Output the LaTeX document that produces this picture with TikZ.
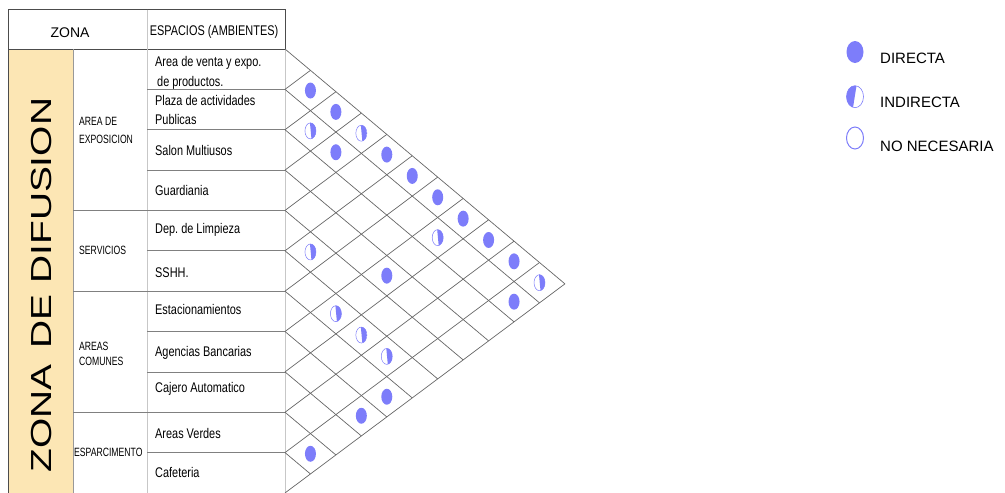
\documentclass[tikz,border=0pt]{standalone}
\usepackage{fontspec}
\setmainfont{Liberation Sans}
\newfontfamily\narrowfont[FakeStretch=0.78]{Liberation Sans}
\newfontfamily\tightfont[FakeStretch=0.72]{Liberation Sans}
\newfontfamily\widefont[FakeStretch=1.34]{Liberation Sans}
\usepackage{xcolor}
\usepackage{tikz}
\usetikzlibrary{shapes.geometric, positioning}
\frenchspacing

\definecolor{relblue}{RGB}{125,125,250}
\definecolor{zonatan}{RGB}{252,230,180}

% row height, half cell width, down / up steps of the grid
\def\rowh{40.36}
\def\cw{25.45}
\def\da{21.35}
\def\db{19.01}

\begin{document}
\begin{tikzpicture}[
    x=1pt, y=-1pt,
    gridline/.style={draw=black!60, line width=0.7pt},
    rowline/.style={draw=black!50, line width=0.7pt},
    colline/.style={draw=black!22, line width=0.9pt},
    frame/.style={draw=black!70, line width=0.8pt},
    headlbl/.style={inner sep=0pt, anchor=base, font=\narrowfont\fontsize{14}{17}\selectfont},
    spacelbl/.style={anchor=base west, inner sep=0pt, font=\narrowfont\fontsize{14}{17}\selectfont},
    spacelbl2/.style={anchor=west, inner sep=0pt, align=left},
    zonelbl/.style={anchor=base west, inner sep=0pt, font=\tightfont\fontsize{12}{15}\selectfont},
    zonelbl2/.style={anchor=west, inner sep=0pt, align=left},
    legtext/.style={anchor=base west, inner sep=0pt, font=\fontsize{15}{18}\selectfont},
    relmark/.style={ellipse, inner sep=0pt, minimum width=11pt, minimum height=16pt},
    directa/.style={relmark, fill=relblue},
    indirecta/.style={relmark, draw=relblue, line width=0.5pt, fill=white,
        path picture={\fill[relblue] ([xshift=-0.5pt]path picture bounding box.north)
            -- ([xshift=1pt]path picture bounding box.south)
            -- (path picture bounding box.south east)
            -- (path picture bounding box.north east) -- cycle;}},
    legindirecta/.style={relmark, draw=relblue, line width=0.6pt, fill=white,
        minimum width=17pt, minimum height=22pt,
        path picture={\fill[relblue] ([xshift=1.5pt]path picture bounding box.north)
            -- ([xshift=-2pt]path picture bounding box.south)
            -- (path picture bounding box.south west)
            -- (path picture bounding box.north west) -- cycle;}},
    nonecesaria/.style={relmark, draw=relblue, line width=1pt, fill=white,
        minimum width=17pt, minimum height=22pt},
]
\useasboundingbox (0,0) rectangle (1005,493);

% banda de la zona
\fill[zonatan] (8,49) rectangle (73,493);
\node[rotate=90, inner sep=0pt, font=\widefont\fontsize{29}{30}\selectfont] (zona_dif) at (42,285) {ZONA\hspace{5pt} DE DIFUSION};

% cabecera
\draw[frame] (8,493) -- (8,9.5) -- (285,9.5) -- (285,49);
\draw[frame] (8,49) -- (285,49);
\draw[colline] (147,9.5) -- (147,493);
\draw[colline] (285,49) -- (285,493);
\draw[rowline, draw=black!40] (73,49) -- (73,493);
\node[headlbl, font=\fontsize{14}{17}\selectfont] (zona_head) at (70,37) {ZONA};
\node[headlbl] (esp_head) at (214,35) {ESPACIOS (AMBIENTES)};

% filas de ambientes
\foreach \k in {1,2,3,5,7,8,10}
    \draw[rowline] (147,{49+\k*\rowh}) -- (285,{49+\k*\rowh});
\foreach \k in {4,6,9}
    \draw[rowline] (73,{49+\k*\rowh}) -- (285,{49+\k*\rowh});

% sub zonas
\node[zonelbl2, font=\tightfont\fontsize{12}{18.5}\selectfont] (sz_expo) at (79,130.3) {AREA DE\\EXPOSICION};
\node[zonelbl] (sz_serv) at (79,254.8) {SERVICIOS};
\node[zonelbl2, font=\tightfont\fontsize{12}{15}\selectfont] (sz_comun) at (79,353.5) {AREAS\\COMUNES};
\node[zonelbl] (sz_espar) at (74,456.8) {ESPARCIMENTO};

% ambientes
\node[spacelbl2, font=\narrowfont\fontsize{14}{20}\selectfont] (sp_venta) at (155,72.5) {Area de venta y expo.\\\hspace*{2pt}de productos.};
\node[spacelbl2, font=\narrowfont\fontsize{14}{19}\selectfont] (sp_plaza) at (155,109.7) {Plaza de actividades\\Publicas};
\node[spacelbl] (sp_salon) at (155,155.3) {Salon Multiusos};
\node[spacelbl] (sp_guard) at (155,195.8) {Guardiania};
\node[spacelbl] (sp_limp) at (155,233) {Dep. de Limpieza};
\node[spacelbl] (sp_sshh) at (155,277.5) {SSHH.};
\node[spacelbl] (sp_estac) at (155,314) {Estacionamientos};
\node[spacelbl] (sp_banco) at (155,356) {Agencias Bancarias};
\node[spacelbl] (sp_cajero) at (155,392.5) {Cajero Automatico};
\node[spacelbl] (sp_verdes) at (155,438) {Areas Verdes};
\node[spacelbl] (sp_cafe) at (155,477) {Cafeteria};

% reticula de relaciones
\foreach \k in {0,...,11} {
    \pgfmathsetmacro\yk{49+\k*\rowh}
    \draw[gridline] (285,\yk) -- ++({(11-\k)*\cw},{(11-\k)*\da});
    \draw[gridline] (285,\yk) -- ++({\k*\cw},{-\k*\db});
}

% relaciones
\foreach \i/\j in {1/2, 1/3, 2/4, 1/5, 1/6, 1/7, 1/8, 1/9, 1/10, 4/8, 2/11, 7/11, 8/11, 10/11}
    \node[directa] (rel_\i_\j) at ({285+(\j-\i)*\cw},{49+(\i-0.5)*\rowh+(\j-\i)*\da}) {};
\foreach \i/\j in {2/3, 1/4, 2/8, 5/6, 1/11, 6/8, 6/9, 6/10}
    \node[indirecta] (rel_\i_\j) at ({285+(\j-\i)*\cw},{49+(\i-0.5)*\rowh+(\j-\i)*\da}) {};

% leyenda
\node[directa, minimum width=17pt, minimum height=22pt] (leg_dir) at (855,52) {};
\node[legindirecta] (leg_ind) at (855,96.7) {};
\node[nonecesaria] (leg_nn) at (855,138) {};
\node[legtext] (leg_dir_txt) at (880,63.7) {DIRECTA};
\node[legtext] (leg_ind_txt) at (880,107.7) {INDIRECTA};
\node[legtext] (leg_nn_txt) at (880,151.1) {NO NECESARIA};

\end{tikzpicture}
\end{document}
